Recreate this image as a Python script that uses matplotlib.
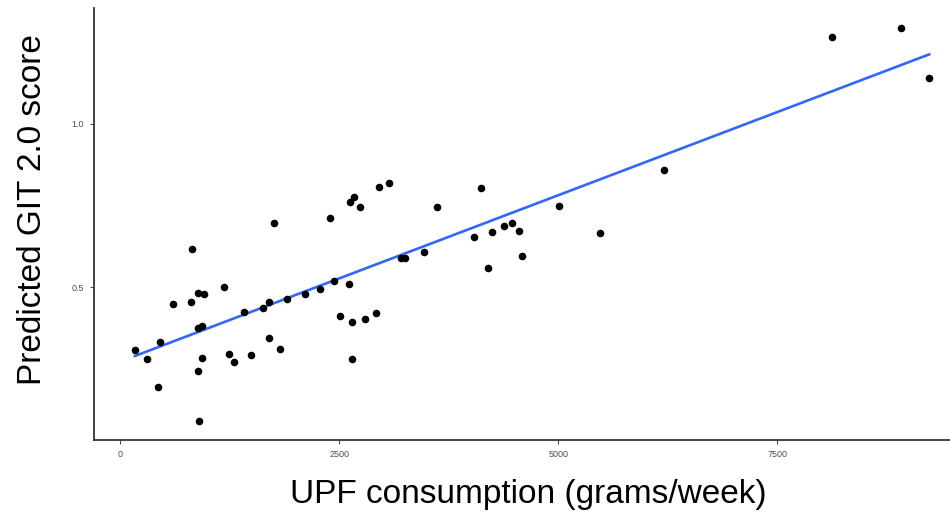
import numpy as np
import matplotlib
matplotlib.use('Agg')
import matplotlib.pyplot as plt

plt.rcParams['font.family'] = ['Liberation Sans', 'DejaVu Sans']

# UPF consumption (grams/week) and predicted GIT 2.0 score
upf = [165, 299, 451, 431, 603, 813, 801, 888, 957, 881,
       934, 927, 881, 896, 1185, 1242, 1296, 1413, 1486, 1630,
       1699, 1695, 1821, 1752, 1904, 2106, 2277, 2392, 2441, 2609,
       2506, 2646, 2639, 2620, 2666, 2734, 2954, 3065, 2791, 2917,
       3199, 3248, 3468, 3617, 4112, 4036, 4192, 4245, 4378, 4473,
       4553, 4580, 5009, 5474, 6208, 8119, 8907, 9233]
git = [0.308, 0.280, 0.333, 0.196, 0.449, 0.618, 0.455, 0.482, 0.480, 0.375,
       0.382, 0.283, 0.244, 0.092, 0.502, 0.296, 0.272, 0.425, 0.293, 0.438,
       0.456, 0.344, 0.310, 0.696, 0.463, 0.480, 0.495, 0.713, 0.519, 0.509,
       0.412, 0.395, 0.280, 0.762, 0.777, 0.747, 0.806, 0.818, 0.402, 0.420,
       0.589, 0.589, 0.609, 0.747, 0.803, 0.655, 0.560, 0.668, 0.688, 0.698,
       0.673, 0.596, 0.750, 0.665, 0.859, 1.266, 1.294, 1.142]

x_ticks = [0, 2500, 5000, 7500]
y_ticks = [0.5, 1.0]

x = np.array(upf, dtype=float)
y = np.array(git)
slope, intercept = np.polyfit(x, y, 1)
xs = np.array([x.min(), x.max()])

fig = plt.figure(figsize=(9.5, 5.18), dpi=100)
ax = fig.add_axes([94 / 950, 78 / 518, 856 / 950, 431.7 / 518])

ax.scatter(x, y, s=30, color='black', linewidths=0, zorder=3)
ax.plot(xs, intercept + slope * xs, color='#3366FF', lw=1.9, zorder=2)

ax.set_xlim(-302, 9470)
ax.set_ylim(0.0325, 1.354)
ax.set_xticks(x_ticks)
ax.set_xticklabels([str(t) for t in x_ticks])
ax.set_yticks(y_ticks)
ax.set_yticklabels(['0.5', '1.0'])

for side in ['top', 'right']:
    ax.spines[side].set_visible(False)
for side in ['left', 'bottom']:
    ax.spines[side].set_color('#333333')
    ax.spines[side].set_linewidth(1.3)
ax.tick_params(colors='#4D4D4D', labelsize=6.5, length=3, width=0.8, pad=4)

fig.text(528 / 950, 1 - 495 / 518, 'UPF consumption (grams/week)',
         ha='center', va='center', fontsize=24)
fig.text(33 / 950, 1 - 210 / 518, 'Predicted GIT 2.0 score',
         ha='center', va='center', rotation=90, fontsize=24)

fig.savefig('out.png', dpi=100)
